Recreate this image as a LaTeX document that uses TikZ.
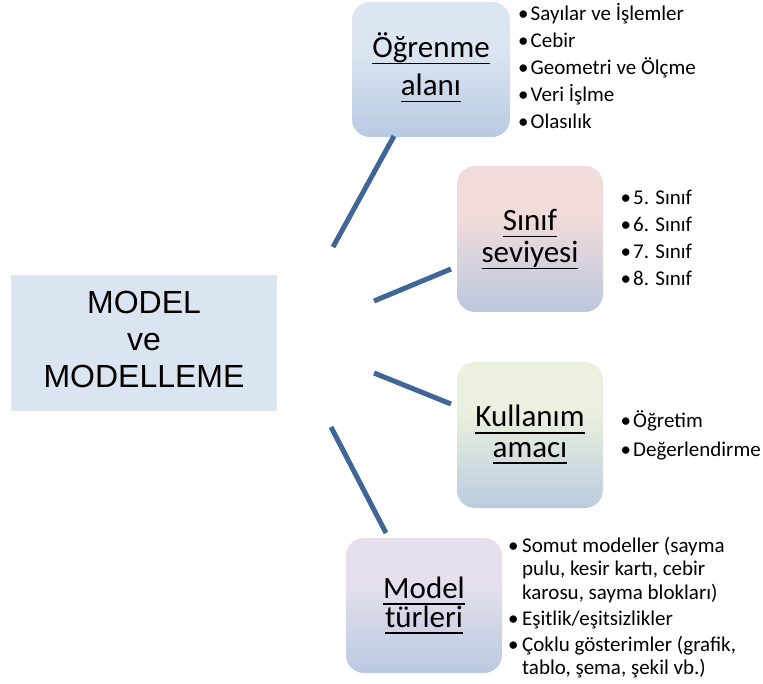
\documentclass[tikz,border=0pt]{standalone}
\usepackage{fontspec}
\setmainfont{Carlito}
\newfontfamily\arialf{Liberation Sans}
\definecolor{mainbg}{HTML}{DBE5F1}
\definecolor{linec}{RGB}{63,102,150}
\definecolor{bbot}{HTML}{BCCDE5}
\definecolor{bdark}{HTML}{B0C4DF}
\definecolor{topblue}{HTML}{DCE6F2}
\definecolor{toppink}{HTML}{F2DCDB}
\definecolor{topgreen}{HTML}{EBF1DE}
\definecolor{toplav}{HTML}{E5E0EC}
\pgfdeclareverticalshading{shblue}{100bp}{color(0bp)=(bbot); color(18bp)=(bdark); color(58bp)=(topblue); color(100bp)=(topblue)}
\pgfdeclareverticalshading{shpink}{100bp}{color(0bp)=(bbot); color(18bp)=(bdark); color(58bp)=(toppink); color(100bp)=(toppink)}
\pgfdeclareverticalshading{shgreen}{100bp}{color(0bp)=(bbot); color(18bp)=(bdark); color(58bp)=(topgreen); color(100bp)=(topgreen)}
\pgfdeclareverticalshading{shlav}{100bp}{color(0bp)=(bbot); color(18bp)=(bdark); color(58bp)=(toplav); color(100bp)=(toplav)}
\newsavebox\ulbox
\newcommand\ulx[1]{\sbox\ulbox{#1}\rlap{\rule[-6.5pt]{\wd\ulbox}{1.6pt}}\usebox\ulbox}
\newcommand\bu[1]{\makebox[#1][l]{•}}
\begin{document}
\begin{tikzpicture}[x=1pt,y=-1pt,
  topicbox/.style={rounded corners=18pt, inner sep=0pt, outer sep=0pt, draw=none},
  lbl/.style={anchor=base, inner sep=0pt, font=\fontsize{31}{31}\selectfont},
  listtxt/.style={anchor=base west, inner sep=0pt},
  conn/.style={draw=linec, line width=5pt},
  mainbox/.style={fill=mainbg, minimum width=266pt, minimum height=136pt, inner sep=0pt, outer sep=0pt}]
\useasboundingbox (0,0) rectangle (763,684);

% central box
\node[mainbox] (main) at (144,343) {};
\node[anchor=base, inner sep=0pt, font=\arialf\fontsize{32}{37}\selectfont] (maintxt) at (144,314)
  {\begin{tabular}[t]{@{}c@{}}MODEL\\ve\\MODELLEME\end{tabular}};

% topic boxes
\node[topicbox, shading=shblue, minimum width=158pt, minimum height=135pt] (b1) at (431,69.5) {};
\node[topicbox, shading=shpink, minimum width=146pt, minimum height=146pt] (b2) at (530,239) {};
\node[topicbox, shading=shgreen, minimum width=146pt, minimum height=146pt] (b3) at (530,435) {};
\node[topicbox, shading=shlav, minimum width=156pt, minimum height=135pt] (b4) at (424,605.5) {};

% labels
\node[lbl] (b1a) at (431,58) {\ulx{Öğrenme}};
\node[lbl] (b1b) at (431,96) {\ulx{alanı}};
\node[lbl] (b2a) at (530,231) {\ulx{Sınıf}};
\node[lbl] (b2b) at (530,263) {\ulx{seviyesi}};
\node[lbl] (b3a) at (530,427) {\ulx{Kullanım}};
\node[lbl] (b3b) at (530,457) {\ulx{amacı}};
\node[lbl] (b4a) at (424,598) {\ulx{Model}};
\node[lbl] (b4b) at (424,627) {\ulx{türleri}};

% lists
\node[listtxt, font=\fontsize{21}{27}\selectfont] (l1) at (518,21)
  {\begin{tabular}[t]{@{}l@{}l@{}}\bu{12.5pt}&Sayılar ve İşlemler\\ \bu{12.5pt}&Cebir\\ \bu{12.5pt}&Geometri ve Ölçme\\ \bu{12.5pt}&Veri İşlme\\ \bu{12.5pt}&Olasılık\end{tabular}};
\node[listtxt, font=\fontsize{21}{27}\selectfont] (l2) at (620.5,205)
  {\begin{tabular}[t]{@{}l@{}l@{}}\bu{12.5pt}&5. Sınıf\\ \bu{12.5pt}&6. Sınıf\\ \bu{12.5pt}&7. Sınıf\\ \bu{12.5pt}&8. Sınıf\end{tabular}};
\node[listtxt, font=\fontsize{21}{28.5}\selectfont] (l3) at (620.5,428)
  {\begin{tabular}[t]{@{}l@{}l@{}}\bu{12.5pt}&Öğretim\\ \bu{12.5pt}&Değerlendirme\end{tabular}};
\node[listtxt, font=\fontsize{21}{23.5}\selectfont] (l4) at (508,552)
  {\begin{tabular}[t]{@{}l@{}l@{}}\bu{14pt}&Somut modeller (sayma\\ &pulu, kesir kartı, cebir\\ &karosu, sayma blokları)\\[2.5pt] \bu{14pt}&Eşitlik/eşitsizlikler\\[2.5pt] \bu{14pt}&Çoklu gösterimler (grafik,\\ &tablo, şema, şekil vb.)\end{tabular}};

% connectors
\coordinate (c1a) at (333,247); \coordinate (c1b) at (394,136);
\coordinate (c2a) at (374,301); \coordinate (c2b) at (451,269);
\coordinate (c3a) at (374,373); \coordinate (c3b) at (451,404);
\coordinate (c4a) at (331,427); \coordinate (c4b) at (386,533);
\draw[conn] (c1a) -- (c1b);
\draw[conn] (c2a) -- (c2b);
\draw[conn] (c3a) -- (c3b);
\draw[conn] (c4a) -- (c4b);
\end{tikzpicture}
\end{document}
